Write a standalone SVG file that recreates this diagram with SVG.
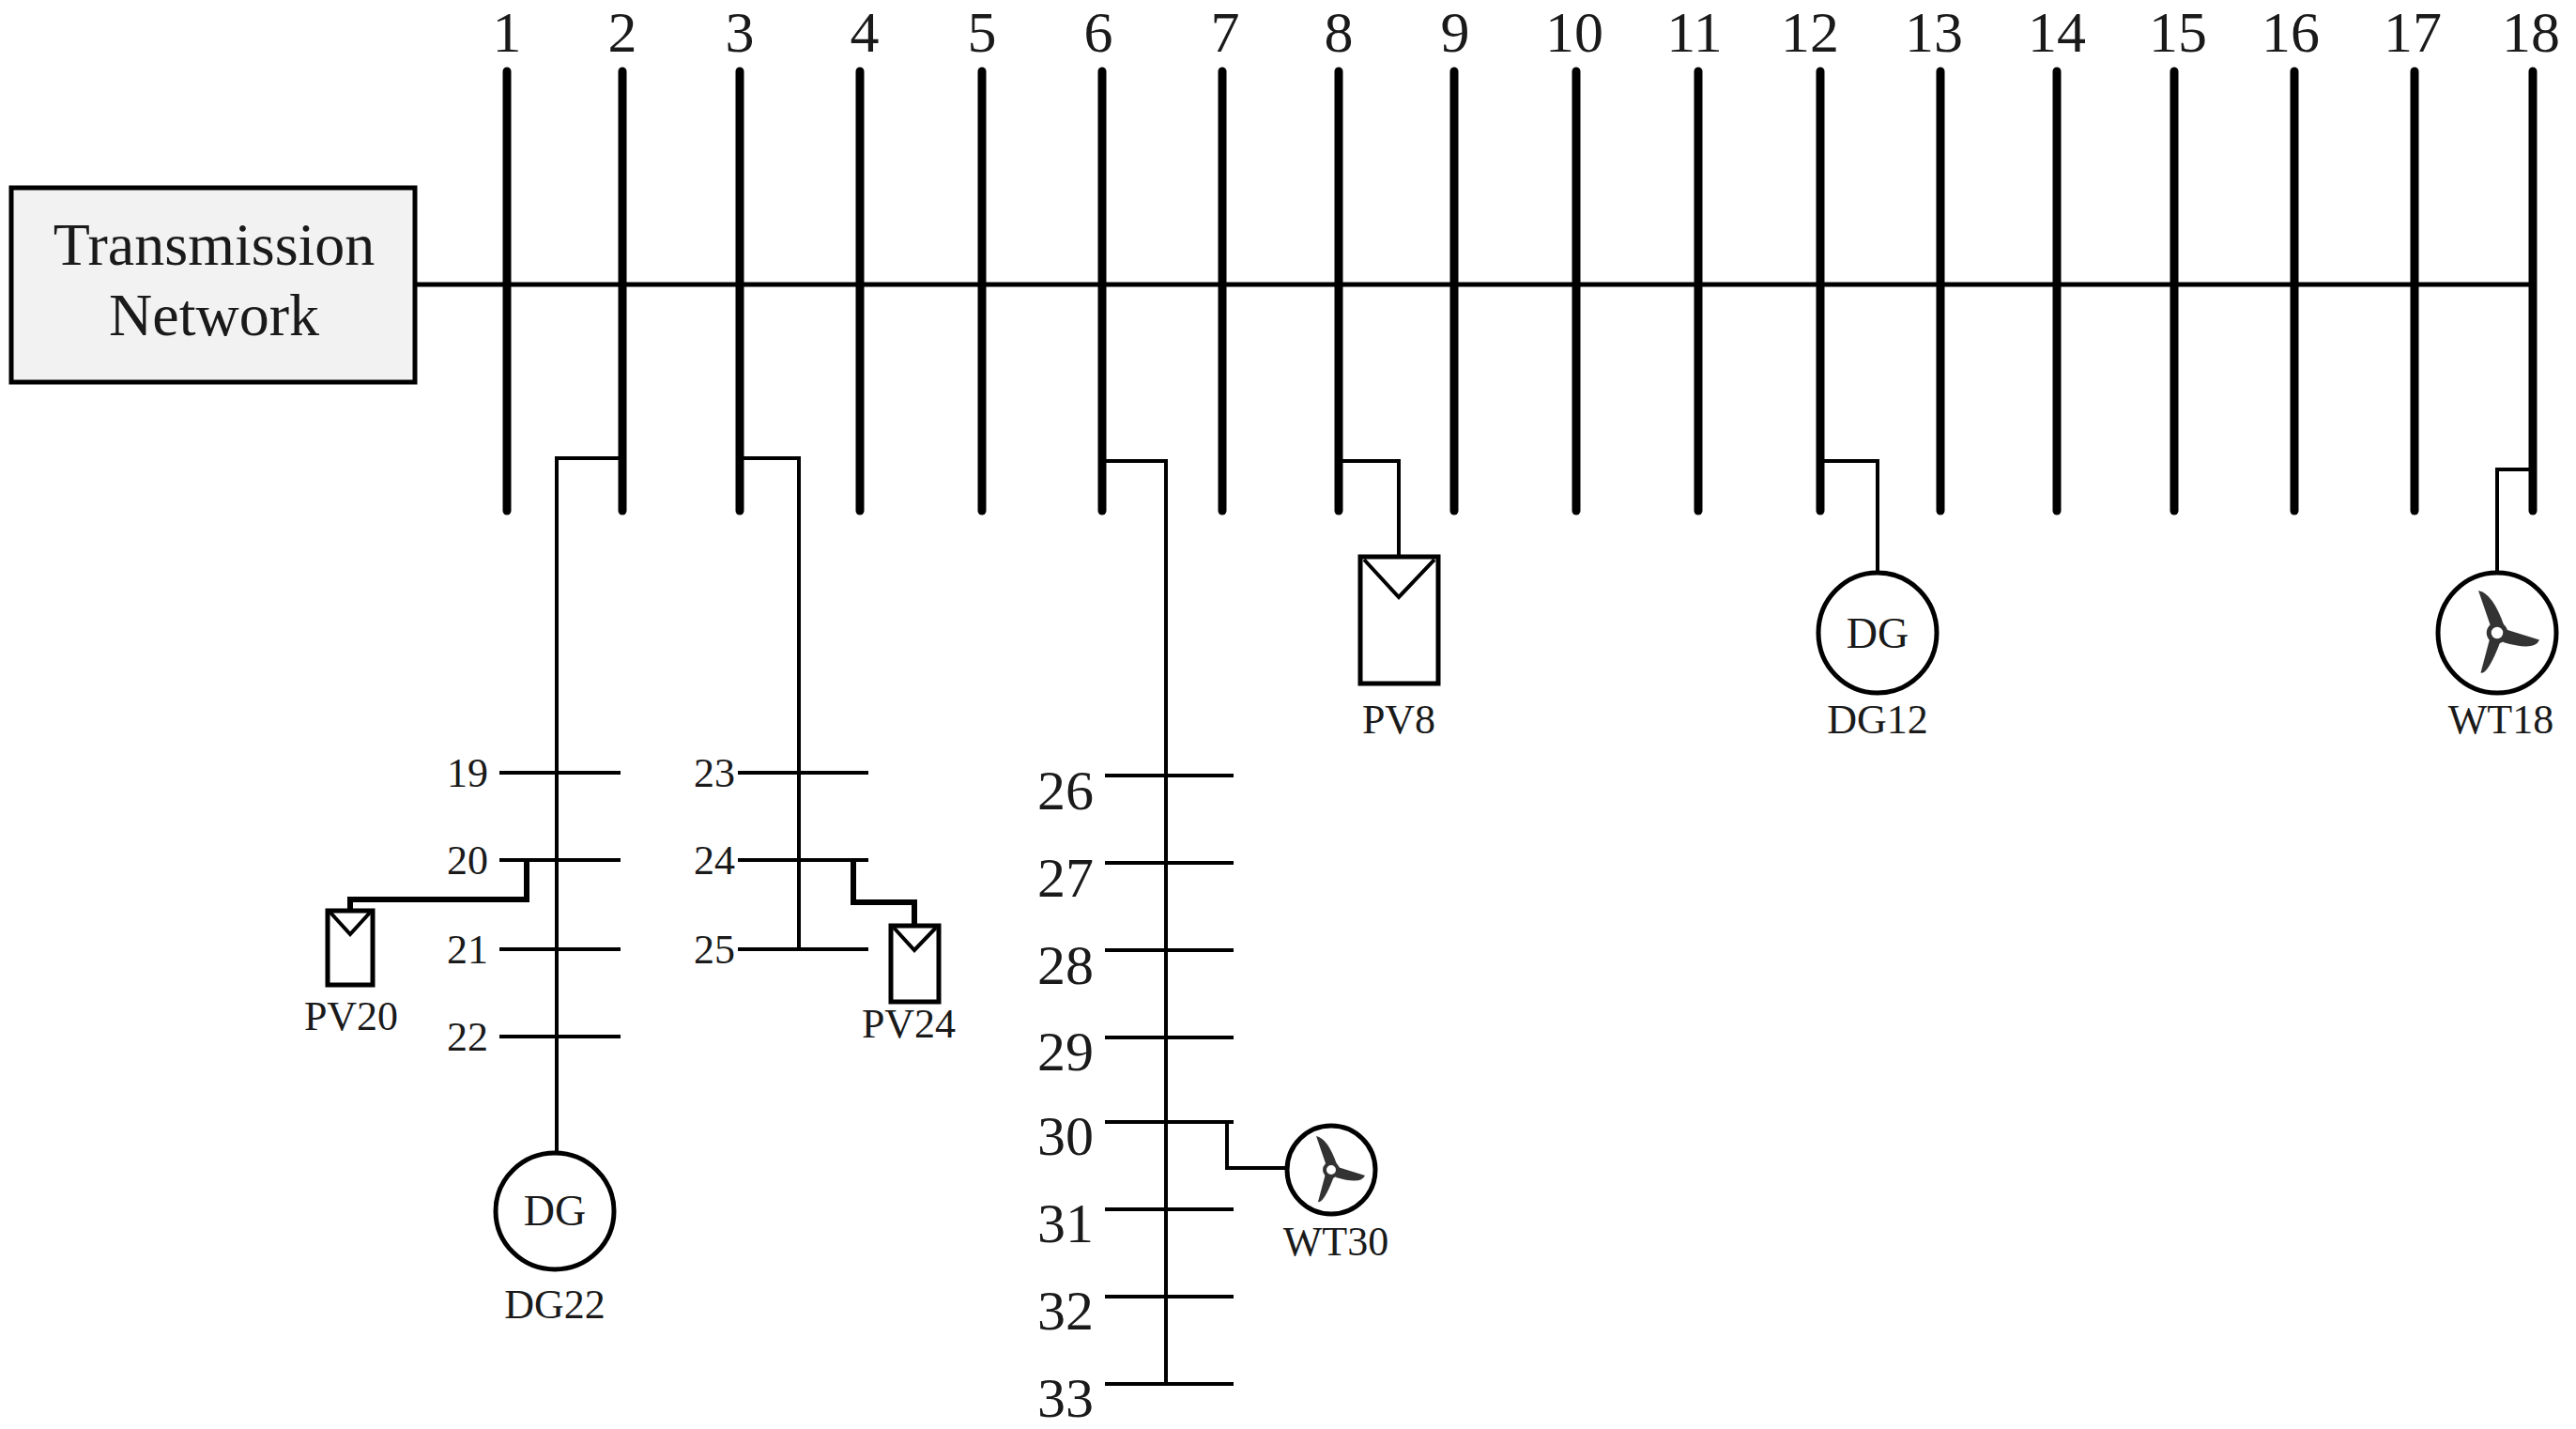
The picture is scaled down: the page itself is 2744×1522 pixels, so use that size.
<svg xmlns="http://www.w3.org/2000/svg" width="2744" height="1522" viewBox="0 0 2744 1522">
<style>
text{font-family:"Liberation Serif","Times New Roman",serif;fill:#1a1a1a}
.bn{font-size:62px;text-anchor:middle}
.sn{font-size:44px;text-anchor:end}
.ln{font-size:60px;text-anchor:end}
.lb{font-size:44px;text-anchor:middle}
.bus{stroke:#000;stroke-width:9;stroke-linecap:round;fill:none}
.w{stroke:#000;stroke-width:4;fill:none}
.wt{stroke:#000;stroke-width:6;fill:none}
.eq{stroke:#000;stroke-width:5;fill:#fff}
</style>
<defs>
<g id="fan">
<path d="M-5,-4 L-16,-36 Q-4,-34 6,-6 Z" fill="#333"/>
<path d="M7,-3 L36,6 Q32,16 5,8 Z" fill="#333"/>
<path d="M-6,4 L-14,34 Q-8,36 3,7 Z" fill="#333"/>
<circle r="7" fill="#fff" stroke="#333" stroke-width="4"/>
</g>
</defs>
<g id="transmission">
<rect x="12" y="200" width="430" height="207" fill="#f2f2f2" stroke="#000" stroke-width="5"/>
<text x="228" y="282" font-size="64" text-anchor="middle">Transmission</text>
<text x="228" y="357" font-size="64" text-anchor="middle">Network</text>
</g>
<g id="connectors">
<line x1="442" y1="303" x2="2698" y2="303" stroke="#000" stroke-width="5"/>
<polyline class="w" points="663,488 593,488 593,1228"/>
<polyline class="w" points="788,488 851,488 851,1011"/>
<polyline class="w" points="1174,491 1242,491 1242,1474"/>
<polyline class="w" points="1426,491 1490,491 1490,593"/>
<polyline class="w" points="1939,491 2000,491 2000,610"/>
<polyline class="w" points="2698,500 2660,500 2660,610"/>
<g class="w">
<line x1="532" y1="823" x2="661" y2="823"/><line x1="532" y1="916" x2="661" y2="916"/>
<line x1="532" y1="1011" x2="661" y2="1011"/><line x1="532" y1="1104" x2="661" y2="1104"/>
<line x1="786" y1="823" x2="925" y2="823"/><line x1="786" y1="916" x2="925" y2="916"/>
<line x1="786" y1="1011" x2="925" y2="1011"/>
<line x1="1177" y1="826" x2="1314" y2="826"/><line x1="1177" y1="919" x2="1314" y2="919"/>
<line x1="1177" y1="1012" x2="1314" y2="1012"/><line x1="1177" y1="1105" x2="1314" y2="1105"/>
<line x1="1177" y1="1195" x2="1314" y2="1195"/><line x1="1177" y1="1288" x2="1314" y2="1288"/>
<line x1="1177" y1="1381" x2="1314" y2="1381"/><line x1="1177" y1="1474" x2="1314" y2="1474"/>
</g>
<polyline class="wt" points="561,916 561,958 373,958 373,970"/>
<polyline class="wt" points="909,916 909,961 974,961 974,986"/>
<polyline class="w" points="1307,1195 1307,1244 1371,1244"/>
</g>
<g id="buses">
<g class="bus">
<line x1="540" y1="76" x2="540" y2="544"/><line x1="663" y1="76" x2="663" y2="544"/>
<line x1="788" y1="76" x2="788" y2="544"/><line x1="916" y1="76" x2="916" y2="544"/>
<line x1="1046" y1="76" x2="1046" y2="544"/><line x1="1174" y1="76" x2="1174" y2="544"/>
<line x1="1302" y1="76" x2="1302" y2="544"/><line x1="1426" y1="76" x2="1426" y2="544"/>
<line x1="1549" y1="76" x2="1549" y2="544"/><line x1="1679" y1="76" x2="1679" y2="544"/>
<line x1="1809" y1="76" x2="1809" y2="544"/><line x1="1939" y1="76" x2="1939" y2="544"/>
<line x1="2067" y1="76" x2="2067" y2="544"/><line x1="2191" y1="76" x2="2191" y2="544"/>
<line x1="2316" y1="76" x2="2316" y2="544"/><line x1="2444" y1="76" x2="2444" y2="544"/>
<line x1="2572" y1="76" x2="2572" y2="544"/><line x1="2698" y1="76" x2="2698" y2="544"/>
</g>
<text class="bn" x="540" y="55">1</text><text class="bn" x="663" y="55">2</text>
<text class="bn" x="788" y="55">3</text><text class="bn" x="921" y="55">4</text>
<text class="bn" x="1046" y="55">5</text><text class="bn" x="1170" y="55">6</text>
<text class="bn" x="1305" y="55">7</text><text class="bn" x="1426" y="55">8</text>
<text class="bn" x="1550" y="55">9</text><text class="bn" x="1677" y="55">10</text>
<text class="bn" x="1805" y="55">11</text><text class="bn" x="1928" y="55">12</text>
<text class="bn" x="2060" y="55">13</text><text class="bn" x="2191" y="55">14</text>
<text class="bn" x="2320" y="55">15</text><text class="bn" x="2440" y="55">16</text>
<text class="bn" x="2570" y="55">17</text><text class="bn" x="2696" y="55">18</text>
</g>
<g id="lateral-labels">
<text class="sn" x="520" y="838">19</text><text class="sn" x="520" y="931">20</text>
<text class="sn" x="520" y="1026">21</text><text class="sn" x="520" y="1119">22</text>
<text class="sn" x="783" y="838">23</text><text class="sn" x="783" y="931">24</text>
<text class="sn" x="783" y="1026">25</text>
<text class="ln" x="1165" y="862">26</text><text class="ln" x="1165" y="955">27</text>
<text class="ln" x="1165" y="1048">28</text><text class="ln" x="1165" y="1140">29</text>
<text class="ln" x="1165" y="1230">30</text><text class="ln" x="1165" y="1323">31</text>
<text class="ln" x="1165" y="1416">32</text><text class="ln" x="1165" y="1509">33</text>
</g>
<g id="PV8">
<rect class="eq" x="1449" y="593" width="83" height="135"/>
<polyline class="w" points="1453,596 1490,636 1528,596"/>
<text class="lb" x="1490" y="781">PV8</text>
</g>
<g id="DG12">
<ellipse class="eq" cx="2000" cy="674" rx="63" ry="64"/>
<text x="2000" y="690" font-size="46" text-anchor="middle">DG</text>
<text class="lb" x="2000" y="781">DG12</text>
</g>
<g id="WT18">
<ellipse class="eq" cx="2660" cy="674" rx="63" ry="64"/>
<g transform="translate(2660 674) scale(1.25)"><use href="#fan"/></g>
<text class="lb" x="2664" y="781">WT18</text>
</g>
<g id="PV20">
<rect class="eq" x="349" y="970" width="48" height="79"/>
<polyline class="w" points="352,972 373,995 394,972"/>
<text class="lb" x="374" y="1097">PV20</text>
</g>
<g id="DG22">
<ellipse class="eq" cx="591" cy="1290" rx="63" ry="62"/>
<text x="591" y="1305" font-size="46" text-anchor="middle">DG</text>
<text class="lb" x="591" y="1404">DG22</text>
</g>
<g id="PV24">
<rect class="eq" x="949" y="986" width="51" height="81"/>
<polyline class="w" points="952,988 974,1012 997,988"/>
<text class="lb" x="968" y="1105">PV24</text>
</g>
<g id="WT30">
<circle class="eq" cx="1418" cy="1246" r="47"/>
<g transform="translate(1418 1246)"><use href="#fan"/></g>
<text class="lb" x="1423" y="1337">WT30</text>
</g>
</svg>
